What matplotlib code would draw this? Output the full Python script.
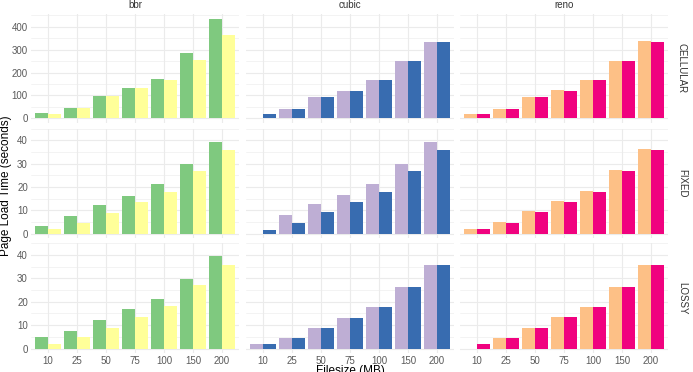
import matplotlib
matplotlib.use("Agg")
import matplotlib.pyplot as plt
import numpy as np

plt.rcParams['font.family'] = ['Liberation Sans', 'DejaVu Sans']

filesizes = ["10", "25", "50", "75", "100", "150", "200"]
algos = ["bbr", "cubic", "reno"]
networks = ["CELLULAR", "FIXED", "LOSSY"]

# two series per algorithm (left bar, right bar)
colors = {
    "bbr": ("#7FC97F", "#FFFF99"),
    "cubic": ("#BEAED4", "#386CB0"),
    "reno": ("#FDC086", "#F0027F"),
}

# page load times (seconds)
cellular_bbr_a = [22, 46, 97, 132, 172, 287, 435]
cellular_bbr_b = [17, 44, 97, 132, 169, 255, 365]
cellular_cubic_a = [0, 39, 93, 120, 166, 250, 335]
cellular_cubic_b = [17, 39, 94, 120, 166, 250, 335]
cellular_reno_a = [19, 41, 94, 125, 167, 250, 339]
cellular_reno_b = [17, 39, 94, 120, 167, 250, 335]

fixed_bbr_a = [3.3, 7.5, 12.1, 16.3, 21.1, 30.0, 39.3]
fixed_bbr_b = [1.8, 4.5, 8.8, 13.7, 17.8, 27.0, 36.0]
fixed_cubic_a = [0, 7.8, 12.5, 16.6, 21.4, 30.0, 39.1]
fixed_cubic_b = [1.7, 4.6, 9.2, 13.4, 18.0, 26.7, 35.8]
fixed_reno_a = [2.1, 4.9, 9.5, 13.9, 18.4, 27.1, 36.3]
fixed_reno_b = [1.8, 4.6, 9.2, 13.6, 18.0, 26.8, 35.9]

lossy_bbr_a = [4.9, 7.7, 12.3, 16.8, 21.1, 29.8, 39.7]
lossy_bbr_b = [1.8, 4.9, 9.0, 13.6, 18.0, 27.1, 35.9]
lossy_cubic_a = [1.8, 4.5, 8.8, 13.2, 17.8, 26.5, 35.5]
lossy_cubic_b = [1.8, 4.5, 8.8, 13.2, 17.8, 26.5, 35.5]
lossy_reno_a = [0, 4.5, 8.8, 13.3, 17.8, 26.5, 35.5]
lossy_reno_b = [1.8, 4.5, 8.8, 13.3, 17.8, 26.5, 35.5]

data = {
    "CELLULAR": {"bbr": (cellular_bbr_a, cellular_bbr_b),
                 "cubic": (cellular_cubic_a, cellular_cubic_b),
                 "reno": (cellular_reno_a, cellular_reno_b)},
    "FIXED": {"bbr": (fixed_bbr_a, fixed_bbr_b),
              "cubic": (fixed_cubic_a, fixed_cubic_b),
              "reno": (fixed_reno_a, fixed_reno_b)},
    "LOSSY": {"bbr": (lossy_bbr_a, lossy_bbr_b),
              "cubic": (lossy_cubic_a, lossy_cubic_b),
              "reno": (lossy_reno_a, lossy_reno_b)},
}
yticks = {"CELLULAR": [0, 100, 200, 300, 400],
          "FIXED": [0, 10, 20, 30, 40],
          "LOSSY": [0, 10, 20, 30, 40]}

W, H = 693, 372
fig = plt.figure(figsize=(W / 100, H / 100), dpi=100)

col_px = [(30.6, 239.4), (245.6, 454.4), (459.6, 668.4)]
row_px = [(13.7, 123.3), (128.5, 238.3), (243.2, 353.3)]

grid_col = "#EBEBEB"
text_col = "#5A5A5A"
x = np.arange(len(filesizes))
bw = 0.45

for r, net in enumerate(networks):
    rowmax = max(max(v) for pair in data[net].values() for v in pair)
    pad = rowmax * 0.05
    for c, algo in enumerate(algos):
        x0, x1 = col_px[c]
        y0, y1 = row_px[r]
        ax = fig.add_axes([x0 / W, 1 - y1 / H, (x1 - x0) / W, (y1 - y0) / H])
        a, b = data[net][algo]
        ca, cb = colors[algo]
        ax.bar(x - bw / 2, a, width=bw, color=ca, zorder=3)
        ax.bar(x + bw / 2, b, width=bw, color=cb, zorder=3)
        ax.set_xlim(-0.6, len(filesizes) - 0.4)
        ax.set_ylim(-pad, rowmax + pad)
        yt = yticks[net]
        ax.set_yticks(yt)
        ax.set_yticks([(yt[i] + yt[i + 1]) / 2 for i in range(len(yt) - 1)] + [yt[-1] + (yt[1] - yt[0]) / 2], minor=True)
        ax.set_xticks(x)
        ax.grid(True, which="major", color=grid_col, lw=0.8, zorder=0)
        ax.grid(True, which="minor", axis="y", color=grid_col, lw=0.4, zorder=0)
        for s in ax.spines.values():
            s.set_visible(False)
        ax.tick_params(which="both", length=0, labelsize=7, colors=text_col, pad=2)
        if c == 0:
            ax.set_yticklabels([str(t) for t in yt])
        else:
            ax.set_yticklabels([])
        if r == 2:
            ax.set_xticklabels(filesizes)
        else:
            ax.set_xticklabels([])
        if r == 0:
            ax.set_title(algo, fontsize=7, color="#333333", pad=4)
        if c == 2:
            ax.text(1.04, 0.5, net, transform=ax.transAxes, rotation=-90,
                    ha="left", va="center", fontsize=7, color="#333333")

fig.text(6 / W, 1 - 186 / H, "Page Load Time (seconds)", rotation=90,
         ha="center", va="center", fontsize=8.5, color="black")
fig.text(350 / W, 1 - 365 / H, "Filesize (MB)", ha="center", va="top",
         fontsize=8.5, color="black")

fig.savefig("out.png", dpi=100)
